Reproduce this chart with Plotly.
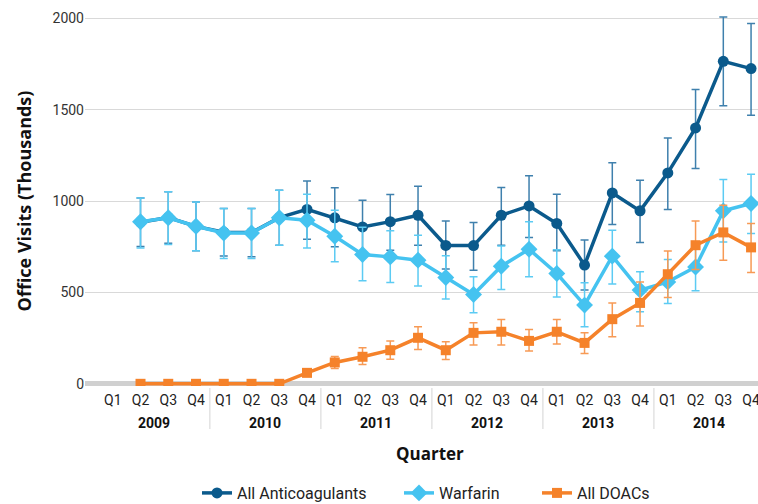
import plotly.graph_objects as go

year_labels = ["2009", "2010", "2011", "2012", "2013", "2014"]
quarter_labels = ["Q1", "Q2", "Q3", "Q4"]
categories = [f"{y} {q}" for y in year_labels for q in quarter_labels]
tick_text = quarter_labels * len(year_labels)

# values (thousands); None = no data (2009 Q1)
all_anti = [None, 885, 910, 862, 830, 828, 910, 955, 909, 859, 888, 923,
            758, 757, 923, 974, 878, 650, 1045, 947, 1155, 1401, 1766, 1726]
all_anti_hi = [None, 1018, 1051, 996, 960, 960, 1060, 1111, 1073, 1005, 1037, 1082,
               892, 883, 1075, 1139, 1038, 787, 1210, 1115, 1346, 1611, 2009, 1973]
all_anti_lo = [None, 752, 769, 728, 700, 696, 759, 792, 750, 713, 732, 759,
               628, 622, 759, 801, 728, 513, 872, 774, 955, 1179, 1522, 1471]

warfarin = [None, 887, 909, 863, 826, 826, 909, 896, 808, 708, 695, 677,
            582, 489, 644, 737, 604, 431, 699, 513, 558, 640, 947, 987]
warfarin_hi = [None, 1018, 1051, 996, 960, 960, 1060, 1038, 951, 857, 838, 814,
               701, 586, 755, 887, 734, 553, 841, 613, 681, 754, 1119, 1148]
warfarin_lo = [None, 744, 763, 728, 686, 686, 759, 744, 668, 564, 555, 535,
               465, 389, 517, 586, 476, 312, 547, 394, 440, 509, 777, 823]

doacs = [None, 0, 0, 0, 0, 0, 0, 60, 117, 148, 184, 252,
         184, 279, 285, 235, 285, 224, 354, 443, 600, 759, 829, 747]
doacs_hi = [None, 0, 0, 0, 0, 0, 0, 60, 150, 197, 235, 312,
            230, 334, 352, 298, 352, 279, 443, 558, 727, 892, 978, 878]
doacs_lo = [None, 0, 0, 0, 0, 0, 0, 60, 84, 106, 135, 188,
            133, 212, 212, 179, 218, 166, 257, 317, 473, 626, 677, 610]

y_ticks = [0, 500, 1000, 1500, 2000]


def err(v, hi, lo):
    plus = [None if a is None else h - a for a, h in zip(v, hi)]
    minus = [None if a is None else a - l for a, l in zip(v, lo)]
    return plus, minus


series = [
    ("All Anticoagulants", all_anti, all_anti_hi, all_anti_lo, "#0b5a8c", "#3f80ad", "circle", 11, "legend"),
    ("Warfarin", warfarin, warfarin_hi, warfarin_lo, "#45c3f0", "#5ccbf3", "diamond", 13, "legend2"),
    ("All DOACs", doacs, doacs_hi, doacs_lo, "#f5822a", "#f79a55", "square", 10, "legend3"),
]

fig = go.Figure()
for name, v, hi, lo, col, ecol, sym, sz, leg in series:
    plus, minus = err(v, hi, lo)
    fig.add_trace(go.Scatter(
        x=categories, y=v, name=name, mode="lines+markers",
        line=dict(color=col, width=3.5),
        marker=dict(color=col, symbol=sym, size=sz),
        error_y=dict(type="data", symmetric=False, array=plus, arrayminus=minus,
                     color=ecol, thickness=1.5, width=4),
        connectgaps=False, legend=leg,
    ))

TICKFONT = "Roboto, DejaVu Sans, sans-serif"
TITLEFONT = "Open Sans, Roboto, sans-serif"

# plot area: left 85px, width 673px; bottom 386px, height 370px
PL, PW = 85.0, 673.0
PB, PH = 386.0, 370.0


def py(px):
    return -(px - PB) / PH


def pxr(px):
    return (px - PL) / PW


# year group labels + dividers
for i, yr in enumerate(year_labels):
    fig.add_annotation(x=i * 4 + 1.5, y=py(423), xref="x", yref="paper",
                       text=f"<b>{yr}</b>", showarrow=False, yanchor="middle",
                       font=dict(family=TICKFONT, size=14, color="#111111"))
for i in range(1, len(year_labels)):
    fig.add_shape(type="line", x0=i * 4 - 0.5, x1=i * 4 - 0.5, xref="x",
                  y0=py(388), y1=py(429), yref="paper",
                  line=dict(color="#d4d4d4", width=1))

fig.add_annotation(x=pxr(430), xref="paper", y=py(453), yref="paper", yanchor="middle",
                   text="<b>Quarter</b>", showarrow=False,
                   font=dict(family=TITLEFONT, size=17, color="#111111"))

leg_common = dict(orientation="h", yanchor="middle", y=py(493), xanchor="left",
                  font=dict(size=16, color="#222222"), itemwidth=30,
                  bgcolor="rgba(0,0,0,0)")

fig.update_layout(
    width=758, height=504,
    margin=dict(l=85, r=0, t=16, b=118, autoexpand=False),
    plot_bgcolor="white", paper_bgcolor="white",
    font=dict(family=TICKFONT, size=14, color="#222222"),
    showlegend=True,
    legend=dict(leg_common, x=pxr(197)),
    legend2=dict(leg_common, x=pxr(399)),
    legend3=dict(leg_common, x=pxr(537)),
    xaxis=dict(
        type="category", range=[-1, 23.25], automargin=False,
        tickmode="array", tickvals=categories, ticktext=tick_text,
        showgrid=False, showline=False, ticks="", ticklabelstandoff=4,
        tickfont=dict(size=14, color="#222222"),
    ),
    yaxis=dict(
        range=[-12, 2014], automargin=False,
        tickvals=y_ticks,
        showgrid=True, gridcolor="#d9d9d9", gridwidth=1,
        zeroline=True, zerolinecolor="#d0d0d0", zerolinewidth=5,
        showline=False, ticks="",
        tickfont=dict(size=14, color="#333333"),
        title=dict(text="<b>Office Visits (Thousands)</b>",
                   font=dict(family=TITLEFONT, size=18, color="#111111"), standoff=16),
    ),
)

fig.write_html("out.html", config={"displayModeBar": False},
               post_script="document.body.style.margin='0';document.body.style.overflow='hidden';")
